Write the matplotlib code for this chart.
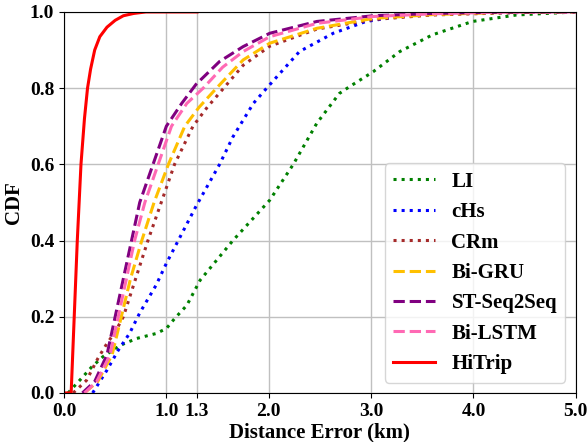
import numpy as np
import matplotlib
matplotlib.use("Agg")
import matplotlib.pyplot as plt

plt.rcParams['font.family'] = ['Liberation Serif', 'DejaVu Serif']
plt.rcParams['font.weight'] = 'bold'

# 读图得到的CDF数据
li_x = [0.04, 0.17, 0.27, 0.38, 0.55, 0.71, 0.9, 1.0, 1.08, 1.2, 1.33, 1.65, 2.01, 2.24, 2.47, 2.69, 2.79, 3.02, 3.28, 3.6, 3.99, 4.42, 5.0]
li_y = [0, 0.038, 0.068, 0.095, 0.125, 0.143, 0.156, 0.169, 0.195, 0.23, 0.296, 0.40, 0.506, 0.60, 0.708, 0.786, 0.804, 0.843, 0.896, 0.94, 0.975, 0.992, 1.0]

chs_x = [0.28, 0.42, 0.53, 0.64, 0.74, 0.9, 1.0, 1.29, 1.52, 1.65, 1.85, 1.98, 2.30, 2.63, 2.95, 3.28, 3.6, 4.0, 5.0]
chs_y = [0, 0.06, 0.112, 0.156, 0.21, 0.283, 0.34, 0.49, 0.6, 0.672, 0.76, 0.80, 0.896, 0.944, 0.975, 0.988, 0.993, 0.997, 1.0]

crm_x = [0.09, 0.22, 0.33, 0.42, 0.5, 0.58, 0.7, 0.82, 0.95, 1.08, 1.26, 1.4, 1.56, 1.75, 2.01, 2.47, 3.02, 3.6, 4.5, 5.0]
crm_y = [0, 0.033, 0.09, 0.13, 0.16, 0.2, 0.3, 0.4, 0.5, 0.6, 0.7, 0.75, 0.8, 0.86, 0.91, 0.955, 0.98, 0.992, 0.999, 1.0]

gru_x = [0.2, 0.33, 0.47, 0.56, 0.65, 0.76, 0.88, 1.02, 1.18, 1.32, 1.49, 1.75, 2.01, 2.47, 3.02, 3.6, 4.2, 5.0]
gru_y = [0, 0.03, 0.1, 0.2, 0.3, 0.4, 0.5, 0.6, 0.7, 0.75, 0.8, 0.874, 0.918, 0.957, 0.983, 0.993, 0.998, 1.0]

seq_x = [0.18, 0.3, 0.42, 0.50, 0.58, 0.66, 0.74, 0.87, 1.0, 1.15, 1.29, 1.52, 1.75, 2.01, 2.47, 3.02, 3.6, 4.2, 5.0]
seq_y = [0, 0.03, 0.1, 0.2, 0.3, 0.4, 0.5, 0.6, 0.7, 0.76, 0.81, 0.87, 0.909, 0.944, 0.975, 0.99, 0.996, 0.999, 1.0]

lstm_x = [0.2, 0.32, 0.45, 0.53, 0.61, 0.69, 0.79, 0.92, 1.05, 1.2, 1.36, 1.55, 1.75, 2.01, 2.47, 3.02, 3.6, 4.2, 5.0]
lstm_y = [0, 0.03, 0.1, 0.2, 0.3, 0.4, 0.5, 0.6, 0.7, 0.76, 0.8, 0.855, 0.896, 0.935, 0.97, 0.988, 0.995, 0.999, 1.0]

hitrip_x = [0, 0.07, 0.085, 0.1, 0.13, 0.166, 0.2, 0.23, 0.26, 0.3, 0.35, 0.42, 0.5, 0.58, 0.68, 0.8, 1.3]
hitrip_y = [0, 0, 0.1, 0.2, 0.4, 0.6, 0.72, 0.8, 0.85, 0.9, 0.935, 0.96, 0.978, 0.99, 0.996, 1.0, 1.0]

xticks = [0.0, 1.0, 1.3, 2.0, 3.0, 4.0, 5.0]
yticks = [0.0, 0.2, 0.4, 0.6, 0.8, 1.0]

fig = plt.figure(figsize=(5.87, 4.42), dpi=100)
ax = fig.add_axes([0.109, 0.111, 0.872, 0.862])

lw = 2.2
ax.plot(li_x, li_y, color='green', linestyle=':', linewidth=lw, label='LI')
ax.plot(chs_x, chs_y, color='blue', linestyle=':', linewidth=lw, label='cHs')
ax.plot(crm_x, crm_y, color='brown', linestyle=':', linewidth=lw, label='CRm')
ax.plot(gru_x, gru_y, color='#FFC000', linestyle='--', linewidth=lw, label='Bi-GRU')
ax.plot(seq_x, seq_y, color='purple', linestyle='--', linewidth=lw, label='ST-Seq2Seq')
ax.plot(lstm_x, lstm_y, color='hotpink', linestyle='--', linewidth=lw, label='Bi-LSTM')
ax.plot(hitrip_x, hitrip_y, color='red', linestyle='-', linewidth=lw, label='HiTrip')

ax.set_xlim(0, 5)
ax.set_ylim(0, 1)
ax.set_xticks(xticks)
ax.set_yticks(yticks)
ax.set_xticklabels(['%.1f' % t for t in xticks])
ax.set_yticklabels(['%.1f' % t for t in yticks])
ax.tick_params(labelsize=14)
ax.grid(True, color='#c0c0c0', linewidth=1)
ax.set_xlabel('Distance Error (km)', fontsize=15, fontweight='bold', labelpad=2)
ax.set_ylabel('CDF', fontsize=15, fontweight='bold', labelpad=4)
ax.legend(loc='lower right', fontsize=15)

plt.savefig('out.png', dpi=100)
